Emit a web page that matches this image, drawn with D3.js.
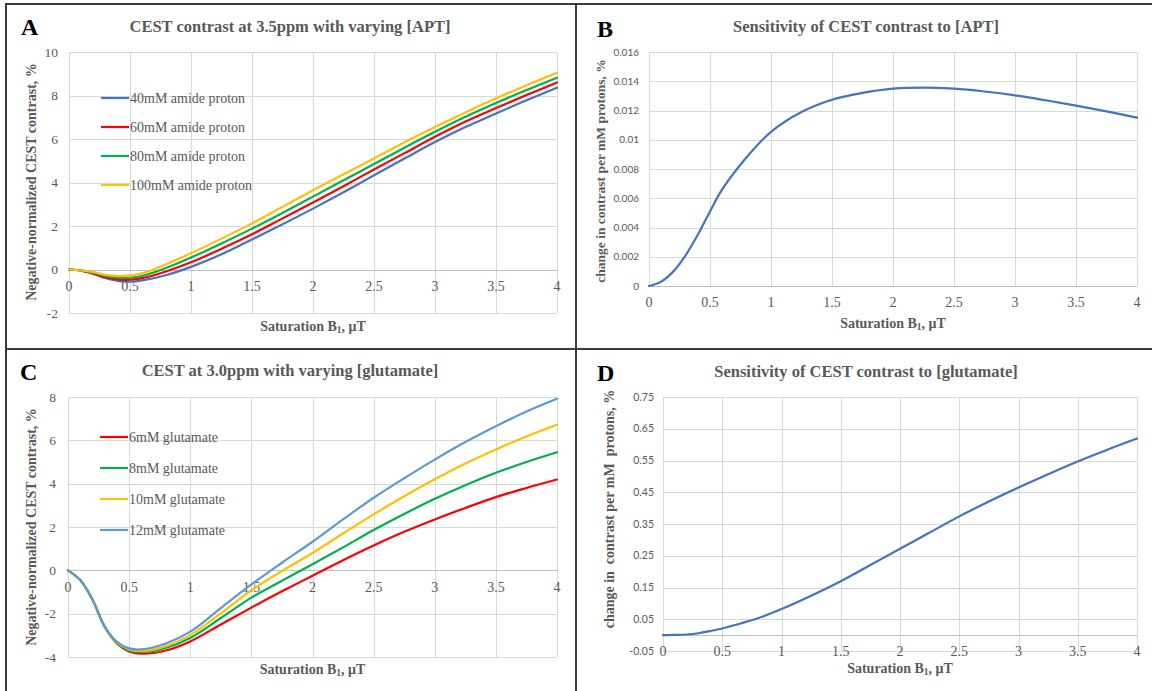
<!DOCTYPE html>
<html>
<head>
<meta charset="utf-8">
<script src="https://cdn.jsdelivr.net/npm/d3@7/dist/d3.min.js"></script>
<style>
  html, body { margin: 0; padding: 0; background: #fff; }
  svg { display: block; }
</style>
</head>
<body>
<svg id="fig" width="1152" height="691"></svg>
<script>
// ---------------- DATA ----------------
const xB1 = [0, 0.1, 0.2, 0.3, 0.4, 0.5, 0.6, 0.8, 1, 1.25, 1.5, 1.75, 2, 2.25, 2.5, 2.75, 3, 3.25, 3.5, 3.75, 4];

// Panel A: CEST contrast at 3.5 ppm
const apt40  = [0, -0.05, -0.2, -0.4, -0.52, -0.56, -0.5, -0.25, 0.12, 0.7, 1.38, 2.08, 2.8, 3.55, 4.33, 5.1, 5.86, 6.55, 7.17, 7.78, 8.36];
const apt60  = [0, -0.05, -0.18, -0.35, -0.45, -0.47, -0.4, -0.08, 0.33, 0.95, 1.62, 2.35, 3.08, 3.83, 4.6, 5.35, 6.1, 6.8, 7.42, 8.02, 8.6];
const apt80  = [0, -0.04, -0.15, -0.3, -0.38, -0.38, -0.3, 0.08, 0.55, 1.2, 1.88, 2.6, 3.35, 4.1, 4.85, 5.6, 6.33, 7.02, 7.65, 8.25, 8.82];
const apt100 = [0, -0.04, -0.12, -0.25, -0.3, -0.27, -0.18, 0.25, 0.75, 1.42, 2.12, 2.88, 3.64, 4.38, 5.1, 5.85, 6.55, 7.22, 7.87, 8.47, 9.05];
const aptLabels = ["40mM amide proton", "60mM amide proton", "80mM amide proton", "100mM amide proton"];

// Panel B: sensitivity to [APT]
const sensAPT = [0, 0.0003, 0.001, 0.0021, 0.0035, 0.0051, 0.0066, 0.0088, 0.01054, 0.0119, 0.01274, 0.0132, 0.01349, 0.01356, 0.01349, 0.0133, 0.01304, 0.0127, 0.01233, 0.01194, 0.01151];

// Panel C: CEST at 3.0 ppm
const glu6  = [0, -0.45, -1.35, -2.6, -3.37, -3.74, -3.85, -3.7, -3.28, -2.5, -1.72, -0.97, -0.25, 0.47, 1.15, 1.78, 2.35, 2.88, 3.38, 3.8, 4.19];
const glu8  = [0, -0.45, -1.35, -2.6, -3.35, -3.7, -3.78, -3.58, -3.12, -2.2, -1.26, -0.48, 0.28, 1.06, 1.86, 2.6, 3.3, 3.93, 4.5, 5.0, 5.45];
const glu10 = [0, -0.45, -1.35, -2.6, -3.33, -3.65, -3.72, -3.5, -2.98, -1.98, -0.92, -0.03, 0.8, 1.7, 2.58, 3.42, 4.2, 4.93, 5.58, 6.18, 6.72];
const glu12 = [0, -0.45, -1.35, -2.6, -3.3, -3.6, -3.65, -3.38, -2.83, -1.74, -0.65, 0.35, 1.32, 2.35, 3.35, 4.25, 5.11, 5.92, 6.65, 7.33, 7.92];
const gluLabels = ["6mM glutamate", "8mM glutamate", "10mM glutamate", "12mM glutamate"];

// Panel D: sensitivity to [glutamate]
const sensGlu = [0, 0.0005, 0.002, 0.006, 0.013, 0.021, 0.031, 0.053, 0.082, 0.124, 0.17, 0.221, 0.272, 0.323, 0.374, 0.421, 0.465, 0.507, 0.547, 0.584, 0.619];

// Ticks
const xTicks = [0, 0.5, 1, 1.5, 2, 2.5, 3, 3.5, 4];
const yTicksA = [-2, 0, 2, 4, 6, 8, 10];
const yTicksB = [0, 0.002, 0.004, 0.006, 0.008, 0.01, 0.012, 0.014, 0.016];
const yTicksC = [-4, -2, 0, 2, 4, 6, 8];
const yTicksD = [-0.05, 0.05, 0.15, 0.25, 0.35, 0.45, 0.55, 0.65, 0.75];

// ---------------- STYLE ----------------
const SERIF = "'Liberation Serif', 'Times New Roman', serif";
const SANS = "Lato, 'Liberation Sans', sans-serif";
const GRAY = "#595959";
const GRID = "#d9d9d9";
const C_BLUE = "#4472C4", C_RED = "#FF0000", C_GREEN = "#00B050", C_YEL = "#FFC000", C_LBLUE = "#5B9BD5";

const svg = d3.select("#fig");
svg.append("rect").attr("width", 1152).attr("height", 691).attr("fill", "#fff");

function fmtX(v) { return String(v); }

function drawPanel(p) {
  const x = d3.scaleLinear().domain([0, 4]).range([p.x0, p.x1]);
  const y = d3.scaleLinear().domain(p.yDomain).range([p.y1, p.y0]);
  const g = svg.append("g");

  // gridlines horizontal
  g.append("g").selectAll("line").data(p.yTicks).join("line")
    .attr("x1", p.x0).attr("x2", p.x1)
    .attr("y1", d => Math.round(y(d)) + 0.5).attr("y2", d => Math.round(y(d)) + 0.5)
    .attr("stroke", GRID).attr("stroke-width", 1);
  // gridlines vertical
  g.append("g").selectAll("line").data(xTicks).join("line")
    .attr("y1", p.y0).attr("y2", p.y1)
    .attr("x1", d => Math.round(x(d)) + 0.5).attr("x2", d => Math.round(x(d)) + 0.5)
    .attr("stroke", GRID).attr("stroke-width", 1);
  // horizontal axis line at 0
  g.append("line").attr("x1", p.x0).attr("x2", p.x1)
    .attr("y1", Math.round(y(0)) + 0.5).attr("y2", Math.round(y(0)) + 0.5)
    .attr("stroke", "#bfbfbf").attr("stroke-width", 1);

  // y tick labels
  g.append("g").selectAll("text").data(p.yTicks).join("text")
    .attr("x", p.x0 - p.yLabelGap).attr("y", d => y(d))
    .attr("dy", "0.35em").attr("text-anchor", "end")
    .attr("font-family", p.yFont).attr("font-size", p.yFontSize).attr("fill", GRAY)
    .text(d => p.yFmt(d));
  // x tick labels (next to the axis at 0)
  g.append("g").selectAll("text").data(xTicks).join("text")
    .attr("x", d => x(d)).attr("y", y(0) + p.xLabelGap)
    .attr("dy", "0.35em").attr("text-anchor", "middle")
    .attr("font-family", SERIF).attr("font-size", p.xFontSize).attr("fill", GRAY)
    .text(fmtX);

  // series
  const line = d3.line().x((d, i) => x(xB1[i])).y(d => y(d)).curve(d3.curveCatmullRom.alpha(0.5));
  p.series.forEach(s => {
    g.append("path").datum(s.values).attr("d", line)
      .attr("fill", "none").attr("stroke", s.color).attr("stroke-width", 2.2)
      .attr("stroke-linejoin", "round").attr("stroke-linecap", "round");
  });

  // legend
  if (p.legend) {
    p.series.forEach((s, i) => {
      const ly = p.legend.y[i];
      g.append("line").attr("x1", p.legend.x0).attr("x2", p.legend.x1)
        .attr("y1", ly).attr("y2", ly).attr("stroke", s.color).attr("stroke-width", 2.2);
      g.append("text").attr("x", p.legend.x1 + 1).attr("y", ly).attr("dy", "0.35em")
        .attr("font-family", SERIF).attr("font-size", 14).attr("fill", GRAY)
        .text(s.label);
    });
  }

  // panel letter
  g.append("text").attr("x", p.letterX).attr("y", p.letterY)
    .attr("font-family", SERIF).attr("font-weight", "bold").attr("font-size", 24)
    .attr("fill", "#000").text(p.letter);
  // title
  g.append("text").attr("x", p.titleX).attr("y", p.titleY).attr("dy", "0.35em")
    .attr("text-anchor", "middle").attr("font-family", SERIF).attr("font-weight", "bold")
    .attr("font-size", 16.5).attr("fill", GRAY).text(p.title);
  // x axis title
  const xt = g.append("text").attr("x", (p.x0 + p.x1) / 2).attr("y", p.xTitleY).attr("dy", "0.35em")
    .attr("text-anchor", "middle").attr("font-family", SERIF).attr("font-weight", "bold")
    .attr("font-size", 14).attr("fill", GRAY);
  xt.append("tspan").text("Saturation B");
  xt.append("tspan").attr("font-size", 9.5).attr("dy", "0.25em").text("1");
  xt.append("tspan").attr("dy", "-0.18em").text(", \u03BCT");
  // y axis title
  g.append("text")
    .attr("transform", `translate(${p.yTitleX},${p.yTitleY}) rotate(-90)`)
    .attr("dy", "0.35em").attr("text-anchor", "middle")
    .attr("font-family", SERIF).attr("font-weight", "bold").attr("font-size", p.yTitleSize || 14)
    .attr("fill", GRAY).attr("xml:space", "preserve").style("white-space", "pre")
    .text(p.yTitle);
}

// Panel A
drawPanel({
  letter: "A", letterX: 21, letterY: 35,
  title: "CEST contrast at 3.5ppm with varying [APT]", titleX: 290, titleY: 26,
  x0: 69, x1: 557, y0: 52, y1: 313, yDomain: [-2, 10], yTicks: yTicksA,
  yFmt: d => String(d), yFont: SERIF, yFontSize: 13.5, yLabelGap: 11,
  xFontSize: 14, xLabelGap: 17, xTitleY: 326,
  yTitle: "Negative-normalized CEST contrast, %", yTitleX: 31, yTitleY: 182,
  series: [
    { values: apt40, color: C_BLUE, label: aptLabels[0] },
    { values: apt60, color: C_RED, label: aptLabels[1] },
    { values: apt80, color: C_GREEN, label: aptLabels[2] },
    { values: apt100, color: C_YEL, label: aptLabels[3] }
  ],
  legend: { x0: 101, x1: 129, y: [98, 127, 156, 185] }
});

// Panel B
drawPanel({
  letter: "B", letterX: 597, letterY: 37,
  title: "Sensitivity of CEST contrast to [APT]", titleX: 866, titleY: 26,
  x0: 649, x1: 1137, y0: 52, y1: 286, yDomain: [0, 0.016], yTicks: yTicksB,
  yFmt: d => String(+d.toFixed(3)), yFont: SANS, yFontSize: 10, yLabelGap: 10,
  xFontSize: 14, xLabelGap: 16, xTitleY: 323,
  yTitle: "change in contrast per mM protons, %", yTitleX: 600, yTitleY: 171, yTitleSize: 13.5,
  series: [{ values: sensAPT, color: C_BLUE }]
});

// Panel C
drawPanel({
  letter: "C", letterX: 20, letterY: 380,
  title: "CEST at 3.0ppm with varying [glutamate]", titleX: 290, titleY: 370,
  x0: 68, x1: 557, y0: 397, y1: 657, yDomain: [-4, 8], yTicks: yTicksC,
  yFmt: d => String(d), yFont: SERIF, yFontSize: 13.5, yLabelGap: 12,
  xFontSize: 14, xLabelGap: 17, xTitleY: 669,
  yTitle: "Negative-normalized CEST contrast, %", yTitleX: 31, yTitleY: 527,
  series: [
    { values: glu6, color: C_RED, label: gluLabels[0] },
    { values: glu8, color: C_GREEN, label: gluLabels[1] },
    { values: glu10, color: C_YEL, label: gluLabels[2] },
    { values: glu12, color: C_LBLUE, label: gluLabels[3] }
  ],
  legend: { x0: 100, x1: 128, y: [437, 468, 499, 530] }
});

// Panel D
drawPanel({
  letter: "D", letterX: 597, letterY: 381,
  title: "Sensitivity of CEST contrast to [glutamate]", titleX: 866, titleY: 371,
  x0: 663, x1: 1137, y0: 397, y1: 651, yDomain: [-0.05, 0.75], yTicks: yTicksD,
  yFmt: d => String(+d.toFixed(2)), yFont: SANS, yFontSize: 10.5, yLabelGap: 9,
  xFontSize: 14, xLabelGap: 16, xTitleY: 668,
  yTitle: "change in  contrast per mM  protons, %", yTitleX: 609, yTitleY: 509,
  series: [{ values: sensGlu, color: C_BLUE }]
});

// figure frame lines
const frame = svg.append("g").attr("stroke", "#3a3a3a").attr("stroke-width", 2);
frame.append("line").attr("x1", 5).attr("x2", 1152).attr("y1", 4).attr("y2", 4);
frame.append("line").attr("x1", 6).attr("x2", 6).attr("y1", 4).attr("y2", 691);
frame.append("line").attr("x1", 576).attr("x2", 576).attr("y1", 4).attr("y2", 691);
frame.append("line").attr("x1", 6).attr("x2", 1152).attr("y1", 349).attr("y2", 349);
</script>
</body>
</html>
